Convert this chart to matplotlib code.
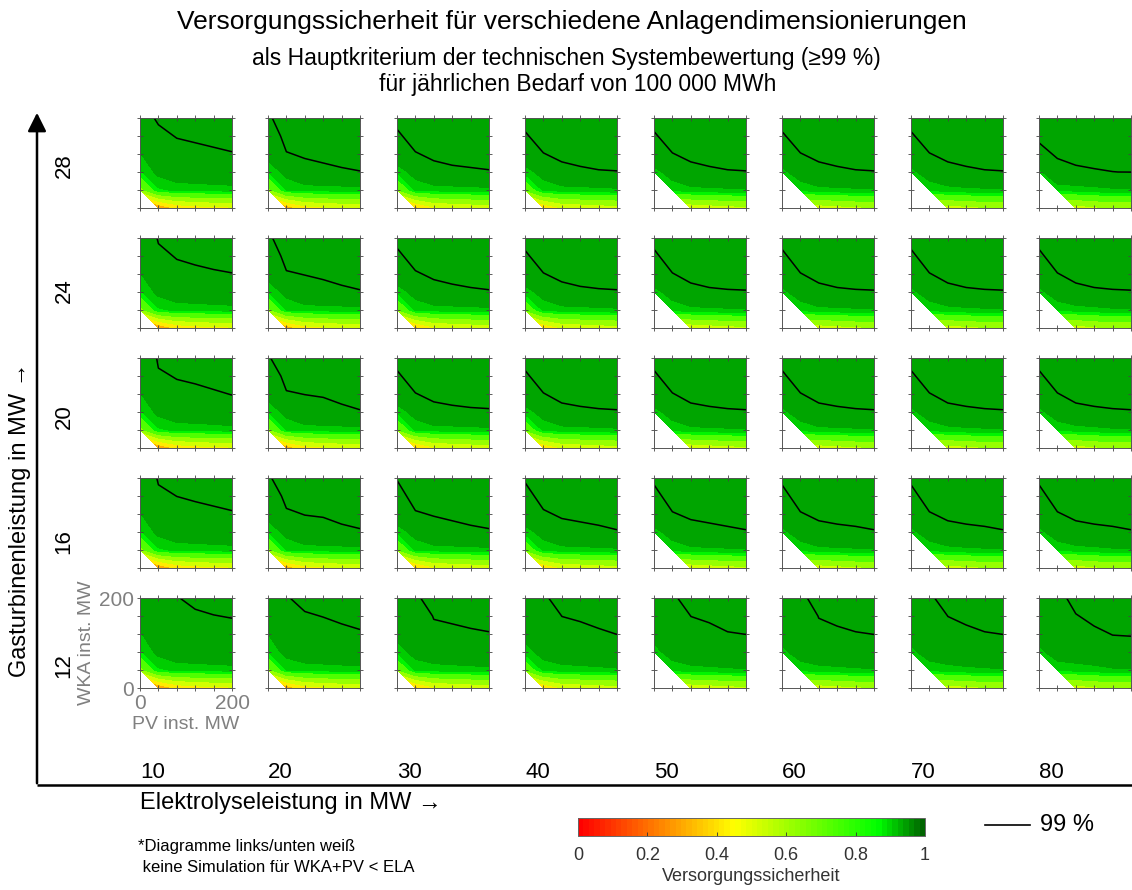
import numpy as np
import matplotlib
matplotlib.use('Agg')
import matplotlib.pyplot as plt
from matplotlib.colors import LinearSegmentedColormap, Normalize
from matplotlib.cm import ScalarMappable

plt.rcParams['font.family'] = ['Liberation Sans', 'DejaVu Sans']

nan = np.nan
ELA = [10, 20, 30, 40, 50, 60, 70, 80]          # columns (MW)
GT = [28, 24, 20, 16, 12]                        # rows, top to bottom (MW)
PV = [0, 40, 80, 120, 160, 200]                  # x grid of each panel
WKA = [0, 40, 80, 120, 160, 200]                 # y grid of each panel

# lowest two grid rows (WKA = 0 and 40) for each ELA column
R0_BY_ELA = [
    [nan, .30, .42, .45, .47, .48],
    [nan, .33, .45, .48, .50, .51],
    [nan, .36, .48, .50, .52, .53],
    [nan, .40, .50, .52, .54, .55],
    [nan, nan, .52, .54, .56, .57],
    [nan, nan, .54, .56, .58, .59],
    [nan, nan, .55, .57, .59, .60],
    [nan, nan, .55, .58, .60, .60]]
R40_BY_ELA = [
    [.65, .84, .86, .865, .87, .875],
    [.67, .85, .865, .87, .875, .88],
    [.69, .855, .87, .875, .88, .885],
    [.71, .86, .875, .88, .885, .89],
    [nan, .86, .88, .885, .89, .895],
    [nan, .86, .88, .885, .89, .895],
    [nan, .86, .875, .885, .89, .895],
    [nan, .86, .87, .88, .89, .895]]

# rows WKA = 80, 120, 160, 200 for each panel (per ELA column)
UPPER_GT28 = [
    [[.84, .92, .955, .96, .965, .97], [.895, .975, .983, .985, .987, .989], [.95, .985, .991, .993, .995, .997], [.980, .993, .995, .997, .999, 1.0]],
    [[.85, .925, .984, .986, .988, .9895], [.93, .989, .992, .994, .996, .998], [.975, .997, .995, .997, .998, .999], [.987, 1.0, .997, .999, 1.0, 1.0]],
    [[.86, .93, .985, .987, .988, .989], [.96, .989, .993, .995, .996, .997], [.987, .997, .996, .998, .999, .999], [.995, .999, .998, 1.0, 1.0, 1.0]],
    [[.87, .93, .9855, .9875, .989, .9895], [.96, .9895, .9935, .9955, .997, .9975], [.988, .9975, .996, .998, .999, .999], [.996, .999, .998, 1.0, 1.0, 1.0]],
    [[.875, .935, .9855, .9875, .989, .9895], [.96, .9895, .9935, .9955, .997, .9975], [.988, .9975, .996, .998, .999, .999], [.996, .999, .998, 1.0, 1.0, 1.0]],
    [[.88, .94, .9855, .9875, .989, .9895], [.96, .9895, .9935, .9955, .997, .9975], [.988, .9975, .996, .998, .999, .999], [.996, .999, .998, 1.0, 1.0, 1.0]],
    [[.88, .94, .9855, .9875, .989, .9895], [.96, .9895, .9935, .9955, .997, .9975], [.988, .9975, .996, .998, .999, .999], [.996, .999, .998, 1.0, 1.0, 1.0]],
    [[.88, .984, .987, .9885, .9898, .9905], [.985, .992, .995, .9965, .998, .998], [.993, .995, .998, .999, .999, .999], [.996, .997, 1.0, 1.0, 1.0, 1.0]]]

UPPER_GT24 = [
    [[.84, .92, .955, .96, .965, .97], [.895, .974, .9835, .986, .988, .9895], [.95, .9845, .9915, .994, .996, .9975], [.96, .9925, .995, .997, .999, 1.0]],
    [[.85, .925, .9825, .9845, .987, .989], [.93, .9885, .9905, .9925, .995, .997], [.975, .9965, .994, .996, .998, .999], [.987, .999, .997, .998, 1.0, 1.0]],
    [[.86, .93, .9845, .9865, .988, .989], [.96, .9885, .9925, .9945, .996, .997], [.9865, .9965, .996, .997, .998, .999], [.9945, .999, .998, .999, 1.0, 1.0]],
    [[.87, .93, .9855, .9875, .9885, .989], [.96, .9895, .9935, .9955, .9965, .997], [.9875, .9975, .996, .998, .999, .999], [.9955, .999, .998, 1.0, 1.0, 1.0]],
    [[.875, .935, .986, .988, .9888, .9892], [.96, .9895, .994, .996, .997, .997], [.987, .9975, .997, .998, .999, .999], [.995, .999, .999, 1.0, 1.0, 1.0]],
    [[.88, .94, .986, .988, .9888, .9892], [.96, .9895, .994, .996, .997, .997], [.987, .9975, .997, .998, .999, .999], [.995, .999, .999, 1.0, 1.0, 1.0]],
    [[.88, .94, .986, .988, .9888, .9892], [.96, .9895, .994, .996, .997, .997], [.987, .9975, .997, .998, .999, .999], [.995, .999, .999, 1.0, 1.0, 1.0]],
    [[.88, .94, .986, .988, .9888, .9892], [.96, .9895, .994, .996, .997, .997], [.987, .9975, .997, .998, .999, .999], [.995, .999, .999, 1.0, 1.0, 1.0]]]

UPPER_GT20 = [
    [[.84, .92, .955, .96, .965, .9825], [.895, .9765, .9835, .9855, .988, .9905], [.93, .9865, .9915, .9935, .996, .996], [.95, .9945, .995, .997, .999, 1.0]],
    [[.85, .925, .982, .9835, .9865, .989], [.93, .9885, .9903, .9915, .9945, .997], [.975, .9965, .994, .995, .997, .999], [.9885, .999, .997, .998, .999, 1.0]],
    [[.86, .93, .9855, .987, .988, .9885], [.96, .9895, .9935, .995, .996, .9965], [.9875, .9975, .996, .998, .998, .999], [.9955, .999, .998, 1.0, 1.0, 1.0]],
    [[.87, .93, .986, .9875, .9885, .989], [.96, .9895, .994, .9955, .9965, .997], [.9875, .9975, .997, .998, .999, .999], [.9955, .999, .999, 1.0, 1.0, 1.0]],
    [[.875, .935, .986, .9875, .9885, .989], [.96, .9895, .994, .9955, .9965, .997], [.9875, .9975, .997, .998, .999, .999], [.9955, .999, .999, 1.0, 1.0, 1.0]],
    [[.88, .94, .986, .9875, .9885, .989], [.96, .9895, .994, .9955, .9965, .997], [.9875, .9975, .997, .998, .999, .999], [.9955, .999, .999, 1.0, 1.0, 1.0]],
    [[.88, .94, .986, .9875, .9885, .989], [.96, .9895, .994, .9955, .9965, .997], [.9875, .9975, .997, .998, .999, .999], [.9955, .999, .999, 1.0, 1.0, 1.0]],
    [[.88, .94, .986, .9875, .9885, .989], [.96, .9895, .994, .9955, .9965, .997], [.9875, .9975, .997, .998, .999, .999], [.9955, .999, .999, 1.0, 1.0, 1.0]]]

UPPER_GT16 = [
    [[.84, .92, .955, .96, .965, .97], [.895, .975, .982, .9845, .9865, .9885], [.94, .985, .9902, .9925, .9945, .9965], [.96, .993, .995, .996, .998, 1.0]],
    [[.85, .925, .9825, .9835, .9865, .9885], [.93, .9875, .9905, .9915, .9945, .9965], [.975, .9955, .994, .995, .997, .999], [.9878, .999, .997, .998, .999, 1.0]],
    [[.86, .93, .983, .985, .987, .9885], [.96, .9885, .991, .993, .995, .9965], [.983, .9965, .995, .996, .998, .999], [.991, .999, .998, .999, 1.0, 1.0]],
    [[.87, .93, .984, .9855, .987, .989], [.96, .988, .992, .9935, .995, .997], [.984, .996, .995, .997, .998, .999], [.992, .999, .998, .999, 1.0, 1.0]],
    [[.875, .935, .9845, .986, .9875, .989], [.96, .989, .9925, .994, .9955, .997], [.985, .997, .996, .997, .998, .999], [.993, .999, .998, .999, 1.0, 1.0]],
    [[.88, .94, .985, .9865, .9875, .989], [.96, .989, .993, .9945, .9955, .997], [.985, .997, .996, .997, .998, .999], [.993, .999, .998, .999, 1.0, 1.0]],
    [[.88, .94, .985, .9865, .9875, .989], [.96, .989, .993, .9945, .9955, .997], [.985, .997, .996, .997, .998, .999], [.993, .999, .998, .999, 1.0, 1.0]],
    [[.88, .94, .985, .9865, .9875, .989], [.96, .989, .993, .9945, .9955, .997], [.985, .997, .996, .997, .998, .999], [.993, .999, .998, .999, 1.0, 1.0]]]

UPPER_GT12 = [
    [[.84, .92, .955, .96, .965, .97], [.895, .94, .96, .977, .9795, .983], [.93, .96, .977, .987, .9895, .991], [.95, .975, .989, .995, .9975, .995]],
    [[.85, .925, .955, .96, .965, .97], [.90, .95, .978, .9825, .9855, .988], [.93, .97, .988, .9905, .9935, .996], [.95, .9885, .996, .995, .997, .999]],
    [[.86, .93, .955, .96, .965, .97], [.93, .95, .9835, .9855, .9875, .989], [.95, .97, .9915, .9935, .9955, .997], [.96, .988, .995, .997, .999, 1.0]],
    [[.87, .93, .955, .96, .965, .982], [.93, .95, .982, .9845, .9875, .9902], [.95, .97, .9902, .9925, .9955, .997], [.96, .988, .995, .996, .999, 1.0]],
    [[.875, .935, .955, .96, .965, .982], [.93, .95, .982, .985, .989, .9902], [.95, .97, .9902, .993, .997, .997], [.96, .988, .995, .997, .999, 1.0]],
    [[.88, .94, .955, .96, .965, .982], [.93, .95, .983, .9865, .989, .9902], [.95, .97, .991, .9945, .997, .997], [.96, .987, .995, .998, .999, 1.0]],
    [[.88, .94, .955, .96, .965, .982], [.93, .95, .982, .986, .989, .9902], [.95, .97, .9902, .994, .997, .997], [.96, .988, .995, .998, .999, 1.0]],
    [[.88, .94, .95, .955, .9825, .983], [.93, .95, .979, .9865, .9905, .991], [.95, .965, .989, .9945, .997, .997], [.96, .983, .997, .998, .999, 1.0]]]

UPPER = [UPPER_GT28, UPPER_GT24, UPPER_GT20, UPPER_GT16, UPPER_GT12]

# colour scale (red -> yellow -> green -> dark green), 64 steps like the bar
cmap = LinearSegmentedColormap.from_list(
    'vs', [(0.0, '#ff0000'), (0.45, '#ffff00'), (0.87, '#00ff00'), (1.0, '#006400')], N=64)
norm = Normalize(0, 1)
LEVELS = [0, .1, .2, .3, .4, .5, .6, .7, .8, .85, .9, 1.0001]
BAND_COLORS = ['#ff0000', '#ff3c00', '#ff7800', '#ffaf00', '#ffeb00', '#d2ff00',
               '#96ff00', '#50ff00', '#00f500', '#00cd00', '#00a500']

W, H = 1132, 890
fig = plt.figure(figsize=(W / 100, H / 100), dpi=100)


def fbox(x, y, w, h):
    return [x / W, 1 - (y + h) / H, w / W, h / H]


ov = fig.add_axes([0, 0, 1, 1])
ov.set_xlim(0, W)
ov.set_ylim(H, 0)
ov.axis('off')

COL_X = [140, 268, 397, 525, 654, 782, 911, 1039]
ROW_Y = [118, 238, 358, 478, 598]
PW, PH = 92, 90
GRAY = '#808080'

Xg, Yg = np.meshgrid(PV, WKA)
for gi, g in enumerate(GT):
    for ei, e in enumerate(ELA):
        Z = np.array([R0_BY_ELA[ei], R40_BY_ELA[ei]] + UPPER[gi][ei], dtype=float)
        Z = np.ma.masked_invalid(Z)
        ax = fig.add_axes(fbox(COL_X[ei], ROW_Y[gi], PW, PH))
        ax.contourf(Xg, Yg, Z, levels=LEVELS, colors=BAND_COLORS, corner_mask=True)
        ax.contour(Xg, Yg, Z, levels=[0.99], colors='k', linewidths=1.1)
        ax.set_xlim(0, 200)
        ax.set_ylim(0, 200)
        ax.set_xticks(PV)
        ax.set_yticks(WKA)
        ax.tick_params(direction='inout', length=5, width=0.6, color='#444444',
                       top=True, right=True, labelsize=15, labelcolor=GRAY, pad=2)
        for s in ax.spines.values():
            s.set_color('#555555')
            s.set_linewidth(0.7)
        if gi == len(GT) - 1 and ei == 0:
            ax.set_xticklabels(['0', '', '', '', '', '200'])
            ax.set_yticklabels(['0', '', '', '', '', '200'])
            ax.set_xlabel('PV inst. MW', fontsize=14, color=GRAY, labelpad=2)
            ax.set_ylabel('WKA inst. MW', fontsize=14, color=GRAY, labelpad=3)
        else:
            ax.set_xticklabels([])
            ax.set_yticklabels([])

# big axes arrows
ov.plot([37, W], [785, 785], color='k', lw=1.8, solid_capstyle='butt')
ov.annotate('', xy=(37, 110), xytext=(37, 786),
            arrowprops=dict(arrowstyle='-|>', lw=1.8, color='k', mutation_scale=28))

# column / row labels
for ei, e in enumerate(ELA):
    ov.text(COL_X[ei], 773, str(e), fontsize=16, ha='left', va='center')
ROW_LABEL_Y = [166, 291, 417, 542, 666]
for gi, g in enumerate(GT):
    ov.text(64, ROW_LABEL_Y[gi], str(g), fontsize=16, rotation=90, ha='center', va='center')

ov.text(20, 520, 'Gasturbinenleistung in MW \u2192', fontsize=17, rotation=90, ha='center', va='center')
ov.text(140, 803, 'Elektrolyseleistung in MW \u2192', fontsize=17, ha='left', va='center')

ov.text(572, 22, 'Versorgungssicherheit für verschiedene Anlagendimensionierungen',
        fontsize=19, ha='center', va='center')
ov.text(566, 58, 'als Hauptkriterium der technischen Systembewertung (\u226599 %)',
        fontsize=16.5, ha='center', va='center')
ov.text(578, 85, 'für jährlichen Bedarf von 100 000 MWh', fontsize=16.5, ha='center', va='center')

ov.text(138, 846, '*Diagramme links/unten weiß', fontsize=12, ha='left', va='center')
ov.text(138, 868, ' keine Simulation für WKA+PV < ELA', fontsize=12, ha='left', va='center')

# colour bar
cax = fig.add_axes(fbox(578, 818, 347, 18))
cb = fig.colorbar(ScalarMappable(norm=norm, cmap=cmap), cax=cax, orientation='horizontal')
cb.set_ticks([0, .2, .4, .6, .8, 1])
cb.set_ticklabels(['0', '0.2', '0.4', '0.6', '0.8', '1'])
cax.tick_params(direction='in', length=3, width=0.6, labelsize=13, pad=8, color='#333333',
                labelcolor='#333333')
cb.outline.set_edgecolor('#666666')
cb.outline.set_linewidth(0.7)
cb.set_label('Versorgungssicherheit', fontsize=13, labelpad=3, color='#333333')

# legend for the 99 % line
ov.plot([985, 1030], [825, 825], color='k', lw=1.2)
ov.text(1040, 825, '99 %', fontsize=17, ha='left', va='center')

fig.savefig('out.png', dpi=100)
